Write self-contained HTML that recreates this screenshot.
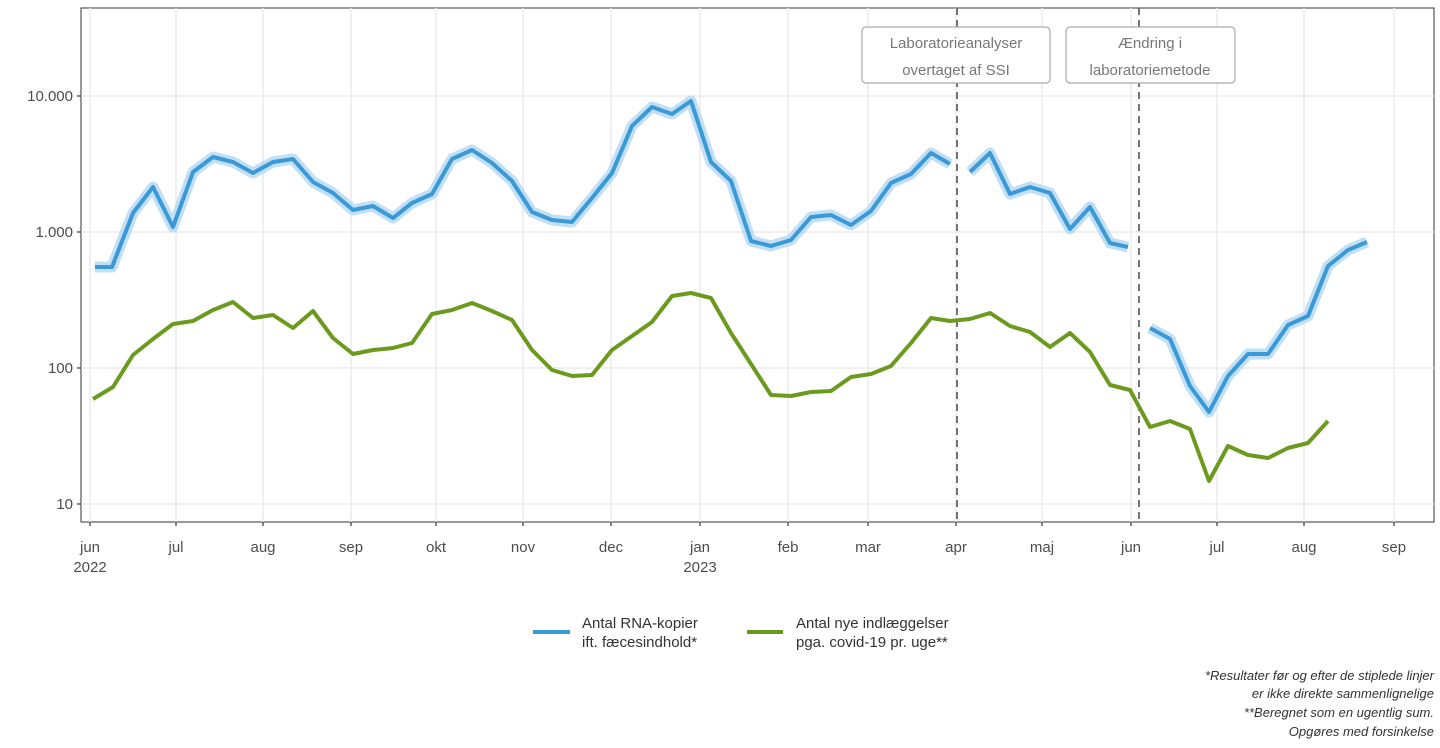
<!DOCTYPE html>
<html><head><meta charset="utf-8"><style>
body{margin:0;background:#fff;}
svg{display:block;font-family:"Liberation Sans",sans-serif;}
</style></head><body>
<svg width="1440" height="748" viewBox="0 0 1440 748">
<rect x="81" y="8" width="1353" height="514" fill="#fff" stroke="#333" stroke-width="1"/>
<g stroke="#ebebeb" stroke-width="1.5">
<line x1="81" x2="1434" y1="96" y2="96"/><line x1="81" x2="1434" y1="232" y2="232"/><line x1="81" x2="1434" y1="368" y2="368"/><line x1="81" x2="1434" y1="504" y2="504"/>
<line x1="90" x2="90" y1="8" y2="522"/><line x1="176" x2="176" y1="8" y2="522"/><line x1="263" x2="263" y1="8" y2="522"/><line x1="351" x2="351" y1="8" y2="522"/><line x1="436" x2="436" y1="8" y2="522"/><line x1="523" x2="523" y1="8" y2="522"/><line x1="611" x2="611" y1="8" y2="522"/><line x1="700" x2="700" y1="8" y2="522"/><line x1="788" x2="788" y1="8" y2="522"/><line x1="868" x2="868" y1="8" y2="522"/><line x1="956" x2="956" y1="8" y2="522"/><line x1="1042" x2="1042" y1="8" y2="522"/><line x1="1131" x2="1131" y1="8" y2="522"/><line x1="1217" x2="1217" y1="8" y2="522"/><line x1="1304" x2="1304" y1="8" y2="522"/><line x1="1394" x2="1394" y1="8" y2="522"/>
</g>
<g stroke="#333" stroke-width="1.2">
<line x1="77" x2="81" y1="96" y2="96"/><line x1="77" x2="81" y1="232" y2="232"/><line x1="77" x2="81" y1="368" y2="368"/><line x1="77" x2="81" y1="504" y2="504"/>
</g>
<g fill="#4d4d4d" font-size="15" text-anchor="end">
<text x="73" y="101">10.000</text><text x="73" y="237">1.000</text><text x="73" y="373">100</text><text x="73" y="509">10</text>
</g>
<g stroke="#333" stroke-width="1.2">
<line x1="90" x2="90" y1="522" y2="526"/><line x1="176" x2="176" y1="522" y2="526"/><line x1="263" x2="263" y1="522" y2="526"/><line x1="351" x2="351" y1="522" y2="526"/><line x1="436" x2="436" y1="522" y2="526"/><line x1="523" x2="523" y1="522" y2="526"/><line x1="611" x2="611" y1="522" y2="526"/><line x1="700" x2="700" y1="522" y2="526"/><line x1="788" x2="788" y1="522" y2="526"/><line x1="868" x2="868" y1="522" y2="526"/><line x1="956" x2="956" y1="522" y2="526"/><line x1="1042" x2="1042" y1="522" y2="526"/><line x1="1131" x2="1131" y1="522" y2="526"/><line x1="1217" x2="1217" y1="522" y2="526"/><line x1="1304" x2="1304" y1="522" y2="526"/><line x1="1394" x2="1394" y1="522" y2="526"/>
</g>
<g fill="#4d4d4d" font-size="15" text-anchor="middle">
<text x="90" y="552">jun</text><text x="90" y="572">2022</text><text x="176" y="552">jul</text><text x="263" y="552">aug</text><text x="351" y="552">sep</text><text x="436" y="552">okt</text><text x="523" y="552">nov</text><text x="611" y="552">dec</text><text x="700" y="552">jan</text><text x="700" y="572">2023</text><text x="788" y="552">feb</text><text x="868" y="552">mar</text><text x="956" y="552">apr</text><text x="1042" y="552">maj</text><text x="1131" y="552">jun</text><text x="1217" y="552">jul</text><text x="1304" y="552">aug</text><text x="1394" y="552">sep</text>
</g>
<g stroke="#666" stroke-width="1.8" stroke-dasharray="7,5">
<line x1="957" x2="957" y1="8" y2="522"/><line x1="1139" x2="1139" y1="8" y2="522"/>
</g>
<g fill="#fff" stroke="#aaa" stroke-width="1.2">
<rect x="862" y="27" width="188" height="56" rx="4"/><rect x="1066" y="27" width="169" height="56" rx="4"/>
</g>
<g fill="#777" font-size="15" text-anchor="middle">
<text x="956" y="48">Laboratorieanalyser</text><text x="956" y="75">overtaget af SSI</text>
<text x="1150" y="48">Ændring i</text><text x="1150" y="75">laboratoriemetode</text>
</g>
<g fill="none" stroke-linejoin="round" stroke-linecap="butt">
<g stroke="#b3d7f0" stroke-width="11" opacity="0.8">
<polyline points="95,267 112,267 133,213 153,187 173,227 193,172 213,157 233,162 253,173 273,162 293,159 313,182 333,193 353,210 373,206 393,218 412,203 432,194 452,159 472,150 492,163 512,181 532,212 552,220 572,222 592,198 612,173 632,126 652,107 672,114 691,101 711,162 731,181 751,241 771,246 791,240 811,217 831,215 851,225 871,211 891,183 911,174 931,153 950,164"/>
<polyline points="970,172 990,153 1010,194 1030,187 1050,193 1070,229 1090,207 1110,243 1128,247"/>
<polyline points="1150,328 1170,339 1190,386 1209,412 1228,376 1248,354 1268,354 1288,325 1308,316 1328,266 1348,250 1367,242"/>
</g>
<g stroke="#3a9ad9" stroke-width="4">
<polyline points="95,267 112,267 133,213 153,187 173,227 193,172 213,157 233,162 253,173 273,162 293,159 313,182 333,193 353,210 373,206 393,218 412,203 432,194 452,159 472,150 492,163 512,181 532,212 552,220 572,222 592,198 612,173 632,126 652,107 672,114 691,101 711,162 731,181 751,241 771,246 791,240 811,217 831,215 851,225 871,211 891,183 911,174 931,153 950,164"/>
<polyline points="970,172 990,153 1010,194 1030,187 1050,193 1070,229 1090,207 1110,243 1128,247"/>
<polyline points="1150,328 1170,339 1190,386 1209,412 1228,376 1248,354 1268,354 1288,325 1308,316 1328,266 1348,250 1367,242"/>
</g>
<polyline stroke="#6b9a1f" stroke-width="4" points="93,399 113,387 133,355 153,339 173,324 193,321 213,310 233,302 253,318 273,315 293,328 313,311 333,338 353,354 373,350 393,348 412,343 432,314 452,310 472,303 492,311 512,320 532,350 552,370 572,376 592,375 612,350 632,336 652,322 672,296 691,293 711,298 731,333 751,364 771,395 791,396 811,392 831,391 851,377 871,374 891,366 911,343 931,318 950,321 970,319 990,313 1010,326 1030,332 1050,347 1070,333 1090,352 1110,385 1130,390 1150,427 1170,421 1190,429 1209,481 1228,446 1248,455 1268,458 1288,448 1308,443 1328,421"/>
</g>
<line x1="533" x2="570" y1="632" y2="632" stroke="#3a9ad9" stroke-width="4"/>
<line x1="747" x2="783" y1="632" y2="632" stroke="#6b9a1f" stroke-width="4"/>
<g fill="#333" font-size="15">
<text x="582" y="628">Antal RNA-kopier</text><text x="582" y="647">ift. fæcesindhold*</text>
<text x="796" y="628">Antal nye indlæggelser</text><text x="796" y="647">pga. covid-19 pr. uge**</text>
</g>
<g fill="#333" font-size="13" font-style="italic" text-anchor="end">
<text x="1434" y="680">*Resultater før og efter de stiplede linjer</text>
<text x="1434" y="698">er ikke direkte sammenlignelige</text>
<text x="1434" y="717">**Beregnet som en ugentlig sum.</text>
<text x="1434" y="736">Opgøres med forsinkelse</text>
</g>
</svg>
</body></html>
